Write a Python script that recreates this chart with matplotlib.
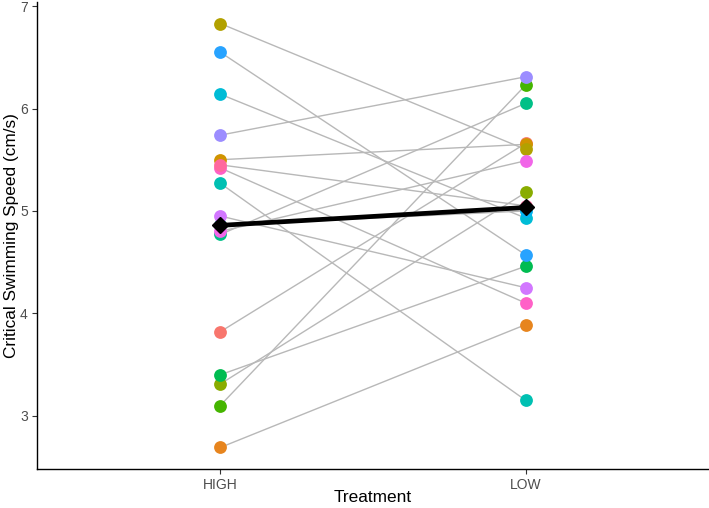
import numpy as np
import matplotlib
matplotlib.use("Agg")
import matplotlib.pyplot as plt

plt.rcParams['font.family'] = ['Liberation Sans', 'DejaVu Sans']

# one entry per fish, paired HIGH / LOW
fish = [str(i) for i in range(1, 18)]
high = [3.82, 2.69, 5.50, 6.83, 3.31, 3.10, 3.40, 4.77, 5.27,
        6.14, 4.86, 6.55, 5.74, 4.95, 4.80, 5.42, 5.45]
low = [5.66, 3.89, 5.65, 5.60, 5.18, 6.23, 4.46, 6.05, 3.15,
       4.93, 5.00, 4.57, 6.31, 4.25, 5.49, 4.10, 5.05]
treatments = ["HIGH", "LOW"]


def hue_pal(n, c=100.0, l=65.0):
    """ggplot2 default hue palette (hcl -> sRGB)."""
    hues = np.linspace(15, 375, n + 1)[:-1]
    xn, yn, zn = 95.047, 100.0, 108.883
    un = 4 * xn / (xn + 15 * yn + 3 * zn)
    vn = 9 * yn / (xn + 15 * yn + 3 * zn)
    out = []
    for h in hues:
        u = c * np.cos(np.radians(h))
        v = c * np.sin(np.radians(h))
        Y = yn * ((l + 16) / 116) ** 3
        up = u / (13 * l) + un
        vp = v / (13 * l) + vn
        X = 9 * Y * up / (4 * vp)
        Z = Y * (12 - 3 * up - 20 * vp) / (4 * vp)
        X, Y, Z = X / 100, Y / 100, Z / 100
        r = 3.2406 * X - 1.5372 * Y - 0.4986 * Z
        g = -0.9689 * X + 1.8758 * Y + 0.0415 * Z
        b = 0.0557 * X - 0.2040 * Y + 1.0570 * Z
        rgb = []
        for ch in (r, g, b):
            ch = 1.055 * ch ** (1 / 2.4) - 0.055 if ch > 0.0031308 else 12.92 * ch
            rgb.append(min(max(ch, 0), 1))
        out.append(tuple(rgb))
    return out


colors = hue_pal(len(fish))
xs = np.array([1, 2])

fig = plt.figure(figsize=(7.09, 5.08), dpi=100)
ax = fig.add_axes([37 / 709, 39 / 508, 672 / 709, 467 / 508])

for h, lo in zip(high, low):
    ax.plot(xs, [h, lo], color="#b8b8b8", lw=1.0, zorder=1)

for i in range(len(fish)):
    ax.scatter(xs, [high[i], low[i]], s=85, color=colors[i], lw=0, zorder=2 + i * 0.01)

means = [np.mean(high), np.mean(low)]
ax.plot(xs, means, color="black", lw=3.4, zorder=5)
ax.plot(xs, means, "D", color="black", ms=8, zorder=6)

ax.set_xlim(0.4, 2.6)
ax.set_ylim(2.48, 7.04)
ax.set_xticks(xs)
ax.set_xticklabels(treatments)
ax.set_yticks([3, 4, 5, 6, 7])

for s in ["top", "right"]:
    ax.spines[s].set_visible(False)
for s in ["left", "bottom"]:
    ax.spines[s].set_color("black")
    ax.spines[s].set_linewidth(1.0)

ax.tick_params(axis="both", colors="#333333", length=3.7, width=0.8,
               labelsize=10, labelcolor="#4d4d4d", pad=3)
ax.set_xlabel("Treatment", fontsize=12.4, color="black", va="center")
ax.xaxis.set_label_coords(0.5, -29 / 467)
ax.set_ylabel("Critical Swimming Speed (cm/s)", fontsize=12.4, color="black", va="center")
ax.yaxis.set_label_coords(-25 / 672, 0.5)

fig.savefig("out.png", dpi=100)
